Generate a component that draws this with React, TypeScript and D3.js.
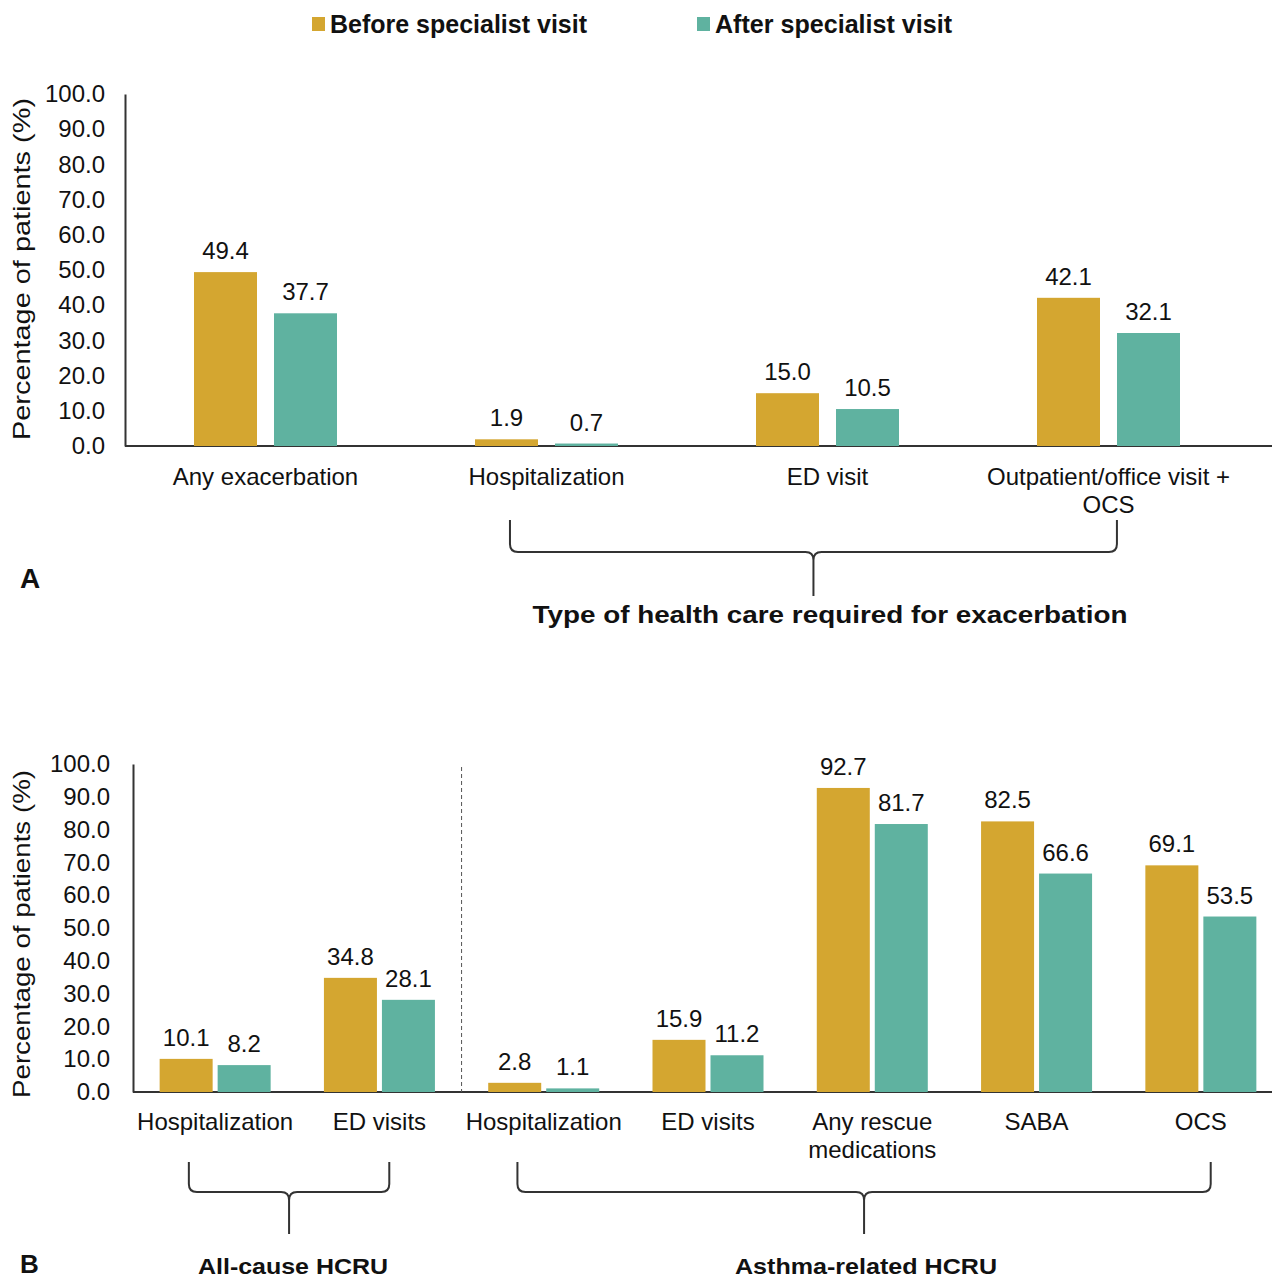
import React, { useRef, useEffect } from 'react';
import * as d3 from 'd3';

// Panel A: exacerbations
const categoriesA = ['Any exacerbation', 'Hospitalization', 'ED visit', 'Outpatient/office visit +|OCS'];
const beforeA = [49.4, 1.9, 15.0, 42.1];
const afterA = [37.7, 0.7, 10.5, 32.1];

// Panel B: HCRU
const categoriesB = ['Hospitalization', 'ED visits', 'Hospitalization ', 'ED visits ', 'Any rescue|medications', 'SABA', 'OCS'];
const beforeB = [10.1, 34.8, 2.8, 15.9, 92.7, 82.5, 69.1];
const afterB = [8.2, 28.1, 1.1, 11.2, 81.7, 66.6, 53.5];

const yTicks = [0, 10, 20, 30, 40, 50, 60, 70, 80, 90, 100];
const seriesNames = ['Before specialist visit', 'After specialist visit'];

const GOLD = '#D4A630';
const TEAL = '#5FB2A0';
const FONT = '"Liberation Sans", Arial, sans-serif';

const App: React.FC = () => {
    const ref = useRef<SVGSVGElement>(null);

    useEffect(() => {
        const svg = d3.select(ref.current);
        svg.selectAll('*').remove();
        svg.style('font-family', FONT);

        // Legenda
        const legend = svg.append('g');
        const legendX = [312, 697];
        seriesNames.forEach((name, i) => {
            legend.append('rect')
                .attr('x', legendX[i]).attr('y', 17)
                .attr('width', 13).attr('height', 14)
                .attr('fill', i === 0 ? GOLD : TEAL);
            legend.append('text')
                .attr('x', legendX[i] + 18).attr('y', 33)
                .attr('font-size', 25).attr('font-weight', 'bold')
                .attr('textLength', i === 0 ? 257 : 237)
                .attr('lengthAdjust', 'spacingAndGlyphs')
                .attr('fill', '#111')
                .text(name);
        });

        const bracePath = (x1: number, x2: number, yTop: number, yMid: number, yTip: number) => {
            const r = 8, r2 = 8;
            const xm = (x1 + x2) / 2;
            return `M${x1},${yTop} V${yMid - r} Q${x1},${yMid} ${x1 + r},${yMid} H${xm - r2} Q${xm},${yMid} ${xm},${yMid + r2} V${yTip}`
                + ` M${xm},${yMid + r2} Q${xm},${yMid} ${xm + r2},${yMid} H${x2 - r} Q${x2},${yMid} ${x2},${yMid - r} V${yTop}`;
        };

        type Panel = {
            cats: string[]; before: number[]; after: number[];
            left: number; right: number; top: number; bottom: number;
            barW: number; gap: number; tickPad: number; labelY: number;
        };

        const drawPanel = (p: Panel) => {
            const g = svg.append('g');
            const x = d3.scaleBand<string>().domain(p.cats).range([p.left, p.right]).paddingInner(0).paddingOuter(0);
            const y = d3.scaleLinear().domain([0, 100]).range([p.bottom, p.top]);
            const off = (x.bandwidth() - 2 * p.barW - p.gap) / 2;

            // Asse Y
            const axis = g.append('g')
                .attr('transform', `translate(${p.left},0)`)
                .call(d3.axisLeft(y).tickValues(yTicks).tickFormat(d3.format('.1f')).tickSize(0).tickSizeOuter(0).tickPadding(p.tickPad));
            axis.select('.domain').attr('stroke', '#333').attr('stroke-width', 2);
            axis.selectAll('text').attr('font-size', 24).attr('font-family', FONT).attr('fill', '#111');

            // Linea di base
            g.append('line')
                .attr('x1', p.left).attr('x2', 1272)
                .attr('y1', p.bottom).attr('y2', p.bottom)
                .attr('stroke', '#333').attr('stroke-width', 2);

            const series = [p.before, p.after];
            series.forEach((vals, si) => {
                g.selectAll(`.bar-${si}`)
                    .data(vals)
                    .enter()
                    .append('rect')
                    .attr('x', (_, i) => x(p.cats[i])! + off + si * (p.barW + p.gap))
                    .attr('y', d => y(d))
                    .attr('width', p.barW)
                    .attr('height', d => p.bottom - y(d))
                    .attr('fill', si === 0 ? GOLD : TEAL);

                g.selectAll(`.lbl-${si}`)
                    .data(vals)
                    .enter()
                    .append('text')
                    .attr('x', (_, i) => x(p.cats[i])! + off + si * (p.barW + p.gap) + p.barW / 2)
                    .attr('y', d => y(d) - 13)
                    .attr('text-anchor', 'middle')
                    .attr('font-size', 24)
                    .attr('fill', '#111')
                    .text(d => d.toFixed(1));
            });

            // Etichette categorie
            p.cats.forEach(c => {
                const t = g.append('text')
                    .attr('x', x(c)! + x.bandwidth() / 2)
                    .attr('y', p.labelY)
                    .attr('text-anchor', 'middle')
                    .attr('font-size', 24)
                    .attr('fill', '#111');
                c.trim().split('|').forEach((line, li) => {
                    t.append('tspan')
                        .attr('x', x(c)! + x.bandwidth() / 2)
                        .attr('dy', li === 0 ? 0 : 28)
                        .text(line);
                });
            });

            return { g, x, y };
        };

        // Pannello A
        const a = drawPanel({
            cats: categoriesA, before: beforeA, after: afterA,
            left: 125, right: 1249, top: 94, bottom: 446,
            barW: 63, gap: 17, tickPad: 20, labelY: 485,
        });
        a.g.append('text')
            .attr('transform', 'translate(30,269) rotate(-90)')
            .attr('text-anchor', 'middle').attr('font-size', 24)
            .attr('textLength', 342).attr('lengthAdjust', 'spacingAndGlyphs')
            .attr('fill', '#111')
            .text('Percentage of patients (%)');
        const bwA = a.x.bandwidth();
        const ax1 = a.x(categoriesA[1])! + bwA * 0.37;
        const ax2 = a.x(categoriesA[3])! + bwA * 0.53;
        a.g.append('path')
            .attr('d', bracePath(ax1, ax2, 520, 552, 596))
            .attr('fill', 'none').attr('stroke', '#333').attr('stroke-width', 2);
        a.g.append('text')
            .attr('x', 830).attr('y', 623)
            .attr('text-anchor', 'middle').attr('font-size', 24).attr('font-weight', 'bold')
            .attr('textLength', 595).attr('lengthAdjust', 'spacingAndGlyphs')
            .attr('fill', '#111')
            .text('Type of health care required for exacerbation');
        a.g.append('text')
            .attr('x', 20).attr('y', 588)
            .attr('font-size', 28).attr('font-weight', 'bold').attr('fill', '#111')
            .text('A');

        // Pannello B
        const b = drawPanel({
            cats: categoriesB, before: beforeB, after: afterB,
            left: 133, right: 1283, top: 764, bottom: 1092,
            barW: 53, gap: 5, tickPad: 23, labelY: 1130,
        });
        b.g.append('text')
            .attr('transform', 'translate(30,934) rotate(-90)')
            .attr('text-anchor', 'middle').attr('font-size', 24)
            .attr('textLength', 328).attr('lengthAdjust', 'spacingAndGlyphs')
            .attr('fill', '#111')
            .text('Percentage of patients (%)');
        const bwB = b.x.bandwidth();
        // Separatore tratteggiato
        const sepX = b.x(categoriesB[2])!;
        b.g.append('line')
            .attr('x1', sepX).attr('x2', sepX)
            .attr('y1', 767).attr('y2', 1092)
            .attr('stroke', '#555').attr('stroke-width', 1)
            .attr('stroke-dasharray', '4,3');

        const braces = [
            { from: 0, to: 1, label: 'All-cause HCRU', lx: 293, len: 190 },
            { from: 2, to: 6, label: 'Asthma-related HCRU', lx: 866, len: 262 },
        ];
        braces.forEach(br => {
            const x1 = b.x(categoriesB[br.from])! + bwB * 0.34;
            const x2 = b.x(categoriesB[br.to])! + bwB * 0.56;
            b.g.append('path')
                .attr('d', bracePath(x1, x2, 1162, 1192, 1234))
                .attr('fill', 'none').attr('stroke', '#333').attr('stroke-width', 2);
            b.g.append('text')
                .attr('x', br.lx).attr('y', 1274)
                .attr('text-anchor', 'middle').attr('font-size', 22).attr('font-weight', 'bold')
                .attr('textLength', br.len).attr('lengthAdjust', 'spacingAndGlyphs')
                .attr('fill', '#111')
                .text(br.label);
        });
        b.g.append('text')
            .attr('x', 20).attr('y', 1273)
            .attr('font-size', 26).attr('font-weight', 'bold').attr('fill', '#111')
            .text('B');
    }, []);

    return (
        <svg ref={ref} width={1272} height={1280}
            style={{ position: 'absolute', left: 0, top: 0, background: '#fff' }} />
    );
};

export default App;
